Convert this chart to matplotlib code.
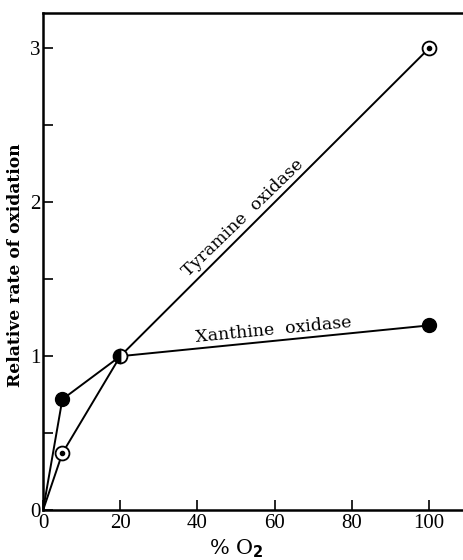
import matplotlib
matplotlib.use("Agg")
import matplotlib.pyplot as plt
import numpy as np

# oxygen tension (%) and relative oxidation rates
o2_pct = [0, 5, 20, 100]
tyramine = [0, 0.37, 1.0, 3.0]
xanthine = [0, 0.72, 1.0, 1.2]

x_ticks = [0, 20, 40, 60, 80, 100]
y_ticks = [0, 1, 2, 3]

plt.rcParams['font.family'] = ['Liberation Serif', 'DejaVu Serif']

fig = plt.figure(figsize=(4.63, 5.60), dpi=100)
ax = fig.add_axes([0.093, 0.089, 0.907, 0.888])

# lines first, markers on top
ax.plot(o2_pct, tyramine, color='black', lw=1.4, zorder=2)
ax.plot(o2_pct, xanthine, color='black', lw=1.4, zorder=2)

ms = 10
# tyramine: open circles with a centre dot
ax.plot(o2_pct[1:2] + o2_pct[3:], tyramine[1:2] + tyramine[3:], 'o', ms=ms,
        mfc='white', mec='black', mew=1.3, zorder=3)
ax.plot(o2_pct[1:2] + o2_pct[3:], tyramine[1:2] + tyramine[3:], 'o', ms=3,
        color='black', zorder=4)
# xanthine: filled circles
ax.plot(o2_pct[1:2] + o2_pct[3:], xanthine[1:2] + xanthine[3:], 'o', ms=ms,
        color='black', zorder=3)
# shared point at 20 %: half filled
ax.plot(o2_pct[2:3], tyramine[2:3], 'o', ms=ms, fillstyle='left',
        mfc='black', mfcalt='white', mec='black', mew=1.3, zorder=3)

label_font = dict(family='DejaVu Serif', fontsize=12.5)
ax.text(51.8, 1.90, 'Tyramine  oxidase', rotation=44, ha='center',
        va='center', **label_font)
ax.text(59.8, 1.17, 'Xanthine  oxidase', rotation=5.5, ha='center',
        va='center', **label_font)

ax.set_xlim(0, 108.8)
ax.set_ylim(0, 3.23)
ax.set_xticks(x_ticks)
ax.set_xticklabels([str(v) for v in x_ticks])
ax.set_yticks(y_ticks)
ax.set_yticklabels([str(v) for v in y_ticks])
ax.set_yticks([0.5, 1.5, 2.5], minor=True)
ax.tick_params(direction='in', length=7, width=1.2, labelsize=15, pad=2)
ax.tick_params(axis='x', pad=3)
ax.tick_params(which='minor', direction='in', length=7, width=1.2)

for s in ['left', 'top', 'bottom']:
    ax.spines[s].set_linewidth(1.8)
ax.spines['right'].set_visible(False)

ax.set_xlabel('% O$_\\mathbf{2}$', fontsize=15, family='DejaVu Serif')
ax.xaxis.set_label_coords(50 / 108.8, -0.055)
ax.set_ylabel('Relative rate of oxidation', fontsize=12.3,
              fontweight='bold', family='DejaVu Serif')
ax.yaxis.set_label_coords(-0.045, 0.493)

fig.savefig('out.png', dpi=100)
